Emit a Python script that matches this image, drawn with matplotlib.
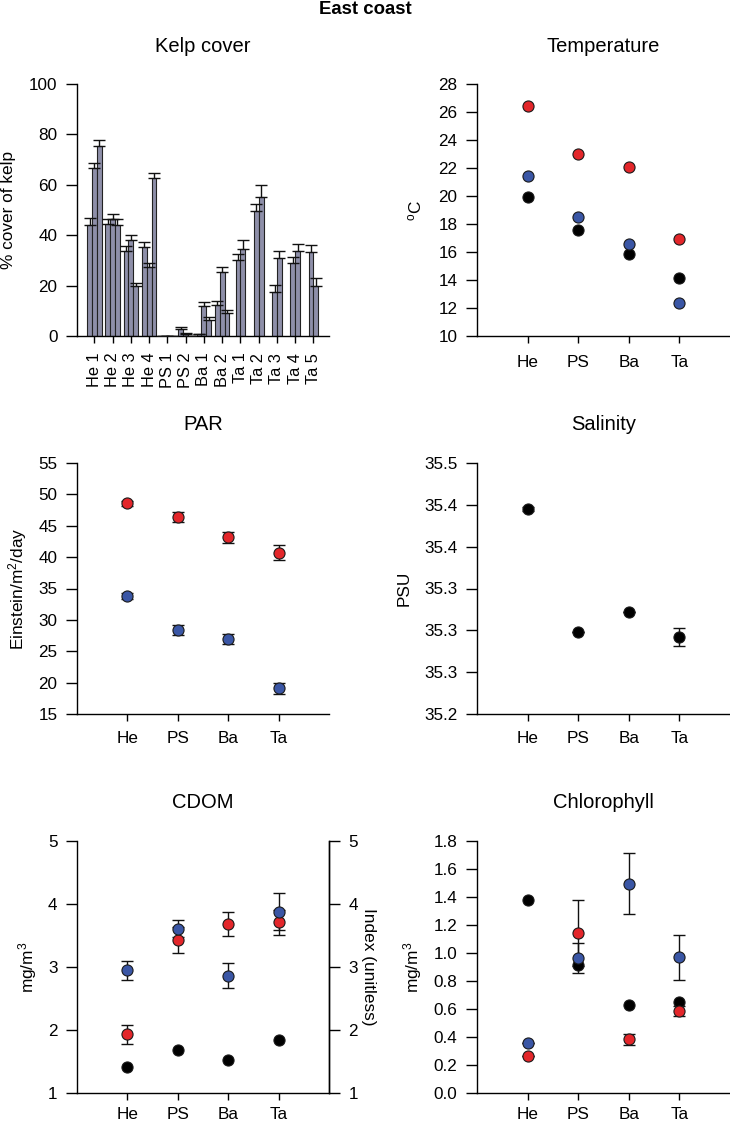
import matplotlib
matplotlib.use("Agg")
import matplotlib.pyplot as plt
import numpy as np

plt.rcParams['font.family'] = ['Liberation Sans', 'DejaVu Sans']
plt.rcParams['mathtext.fontset'] = 'custom'
plt.rcParams['mathtext.rm'] = 'Liberation Sans'
plt.rcParams['mathtext.it'] = 'Liberation Sans'

# ---- data ----
sites = ['He', 'PS', 'Ba', 'Ta']

kelp_labels = ['He 1', 'He 2', 'He 3', 'He 4', 'PS 1', 'PS 2', 'Ba 1', 'Ba 2',
               'Ta 1', 'Ta 2', 'Ta 3', 'Ta 4', 'Ta 5']
kelp_mean = [[44.1, 66.8, 75.4], [44.5, 46.4, 43.9], [33.8, 38.0, 19.7],
             [35.3, 27.2, 62.6], [0, 0, 0], [2.8, 0.9, 0], [0.6, 12.0, 6.5],
             [12.3, 25.5, 9.0], [30.0, 34.6], [49.5, 55.3], [17.6, 30.9],
             [29.1, 33.6], [33.3, 19.7]]
kelp_err = [[2.9, 2.0, 2.4], [2.0, 2.2, 2.5], [2.1, 2.0, 1.2],
            [2.0, 1.6, 2.0], [0, 0, 0], [0.8, 0.3, 0], [0.3, 1.6, 1.0],
            [1.6, 1.7, 1.3], [2.6, 3.6], [2.8, 4.7], [2.6, 2.8],
            [2.2, 3.0], [3.0, 3.5]]

temp_black = [19.96, 17.56, 15.85, 14.11]
temp_blue = [21.46, 18.51, 16.56, 12.33]
temp_red = [26.45, 23.03, 22.06, 16.94]

par_blue = [33.75, 28.4, 26.97, 19.08]
par_blue_err = [0.5, 0.75, 0.85, 0.9]
par_red = [48.59, 46.42, 43.18, 40.7]
par_red_err = [0.4, 0.8, 0.85, 1.2]

sal_black = [35.445, 35.2985, 35.3216, 35.292]
sal_black_err = [0.002, 0.0, 0.0, 0.0107]
sal_ticks = [35.2, 35.25, 35.3, 35.35, 35.4, 35.45, 35.5]
sal_ticklabels = ['35.2', '35.3', '35.3', '35.3', '35.4', '35.4', '35.5']

cdom_black = [1.42, 1.68, 1.53, 1.845]
cdom_blue = [2.945, 3.61, 2.86, 3.88]
cdom_blue_err = [0.15, 0.13, 0.2, 0.29]
cdom_red = [1.93, 3.43, 3.68, 3.71]
cdom_red_err = [0.146, 0.21, 0.195, 0.2]

chl_black = [1.382, 0.916, 0.630, 0.649]
chl_blue = [0.359, 0.963, 1.496, 0.968]
chl_blue_err = [0.0, 0.107, 0.218, 0.16]
chl_red = [0.264, 1.141, 0.385, 0.585]
chl_red_err = [0.0, 0.236, 0.04, 0.035]

RED = '#e3262a'
BLUE = '#3a56a5'
BLACK = '#000000'
BAR = '#8e8fa9'

W, H = 730, 1124
fig = plt.figure(figsize=(W / 100, H / 100), dpi=100)


def add_ax(left, top, right, bottom):
    return fig.add_axes([left / W, 1 - bottom / H, (right - left) / W, (bottom - top) / H])


def style(ax, xlim=(0, 5)):
    for s in ['top', 'right']:
        ax.spines[s].set_visible(False)
    for s in ['left', 'bottom']:
        ax.spines[s].set_linewidth(1.0)
    ax.tick_params(axis='y', direction='out', length=8, width=1, labelsize=12.3, pad=6)
    ax.tick_params(axis='x', direction='out', length=5, width=1, labelsize=12.3, pad=7)
    ax.set_xlim(*xlim)


def points(ax, y, color, err=None):
    x = np.arange(1, len(y) + 1)
    if err is not None:
        ax.errorbar(x, y, yerr=err, fmt='none', ecolor='#111111', elinewidth=1,
                    capsize=4, capthick=1, zorder=2)
    ax.plot(x, y, 'o', color=color, markersize=8, markeredgecolor='#1a1a1a',
            markeredgewidth=0.8, zorder=3, clip_on=False)


def title(ax, text, y_px):
    bb = ax.get_position()
    fig.text((bb.x0 + bb.x1) / 2, 1 - y_px / H, text, ha='center', va='center', fontsize=14.5)


def ylabel(ax, text, xc):
    ax.set_ylabel(text, fontsize=12.4, va='center')
    ax.yaxis.set_label_coords(xc, 0.5)


# ---- Kelp cover ----
ax = add_ax(77, 84, 329, 336)
style(ax, xlim=(0.05, 13.85))
bw = 0.265
for i, (vals, errs) in enumerate(zip(kelp_mean, kelp_err)):
    n = len(vals)
    xs = (i + 1) + (np.arange(n) - (n - 1) / 2) * bw
    ax.bar(xs, vals, width=bw, color=BAR, edgecolor='#222222', linewidth=0.8, zorder=2)
    ax.errorbar(xs, vals, yerr=[np.zeros(n), errs], fmt='none', ecolor='#111111',
                elinewidth=1, capsize=4, capthick=1, zorder=3)
ax.set_xticks(np.arange(1, len(kelp_labels) + 1))
ax.set_xticklabels(kelp_labels, rotation=90, fontsize=11.8)
ax.tick_params(axis='x', pad=7)
ax.set_ylim(0, 100)
ax.set_yticks([0, 20, 40, 60, 80, 100])
ylabel(ax, '% cover of kelp', -0.27)
title(ax, 'Kelp cover', 47)

# ---- Temperature ----
ax = add_ax(477, 84, 730, 336)
style(ax)
points(ax, temp_black, BLACK)
points(ax, temp_red, RED)
points(ax, temp_blue, BLUE)
ax.set_ylim(10, 28)
ax.set_yticks(np.arange(10, 29, 2))
ax.set_xticks([1, 2, 3, 4])
ax.set_xticklabels(sites)
ax.tick_params(axis='x', pad=9)
ylabel(ax, '$^{\\mathrm{o}}$C', -0.245)
title(ax, 'Temperature', 47)

# ---- PAR ----
ax = add_ax(77, 463, 329, 714)
style(ax)
points(ax, par_red, RED, par_red_err)
points(ax, par_blue, BLUE, par_blue_err)
ax.set_ylim(15, 55)
ax.set_yticks(np.arange(15, 56, 5))
ax.set_xticks([1, 2, 3, 4])
ax.set_xticklabels(sites)
ylabel(ax, 'Einstein/m$^2$/day', -0.235)
title(ax, 'PAR', 425)

# ---- Salinity ----
ax = add_ax(477, 463, 730, 714)
style(ax)
points(ax, sal_black, BLACK, sal_black_err)
ax.set_ylim(35.2, 35.5)
ax.set_yticks(sal_ticks)
ax.set_yticklabels(sal_ticklabels)
ax.set_xticks([1, 2, 3, 4])
ax.set_xticklabels(sites)
ylabel(ax, 'PSU', -0.29)
title(ax, 'Salinity', 425)

# ---- CDOM ----
ax = add_ax(77, 841, 329, 1093)
style(ax)
ax.spines['right'].set_visible(True)
ax.spines['right'].set_linewidth(1.0)
points(ax, cdom_black, BLACK)
points(ax, cdom_red, RED, cdom_red_err)
points(ax, cdom_blue, BLUE, cdom_blue_err)
ax.set_ylim(1, 5)
ax.set_yticks([1, 2, 3, 4, 5])
ax.set_xticks([1, 2, 3, 4])
ax.set_xticklabels(sites)
ax.tick_params(axis='x', pad=5)
ylabel(ax, 'mg/m$^3$', -0.195)
axr = ax.twinx()
axr.set_ylim(1, 5)
axr.set_yticks([1, 2, 3, 4, 5])
for s in ['top', 'left', 'bottom']:
    axr.spines[s].set_visible(False)
axr.spines['right'].set_linewidth(1.0)
axr.tick_params(axis='y', direction='out', length=8, width=1, labelsize=12.3, pad=6)
axr.set_ylabel('Index (unitless)', fontsize=12.4, rotation=270, va='center')
axr.yaxis.set_label_coords(1.155, 0.5)
title(ax, 'CDOM', 803)

# ---- Chlorophyll ----
ax = add_ax(477, 841, 730, 1093)
style(ax)
points(ax, chl_black, BLACK)
points(ax, chl_red, RED, chl_red_err)
points(ax, chl_blue, BLUE, chl_blue_err)
ax.set_ylim(0, 1.8)
ax.set_yticks(np.arange(0, 1.81, 0.2))
ax.set_yticklabels([f'{v:.1f}' for v in np.arange(0, 1.81, 0.2)])
ax.set_xticks([1, 2, 3, 4])
ax.set_xticklabels(sites)
ax.tick_params(axis='x', pad=5)
ylabel(ax, 'mg/m$^3$', -0.253)
title(ax, 'Chlorophyll', 803)

fig.text(0.5, 1 - 9 / H, 'East coast', ha='center', va='center', fontsize=13.4,
         fontweight='bold', family=['Liberation Sans Narrow', 'Liberation Sans'])

fig.savefig('out.png', dpi=100)
